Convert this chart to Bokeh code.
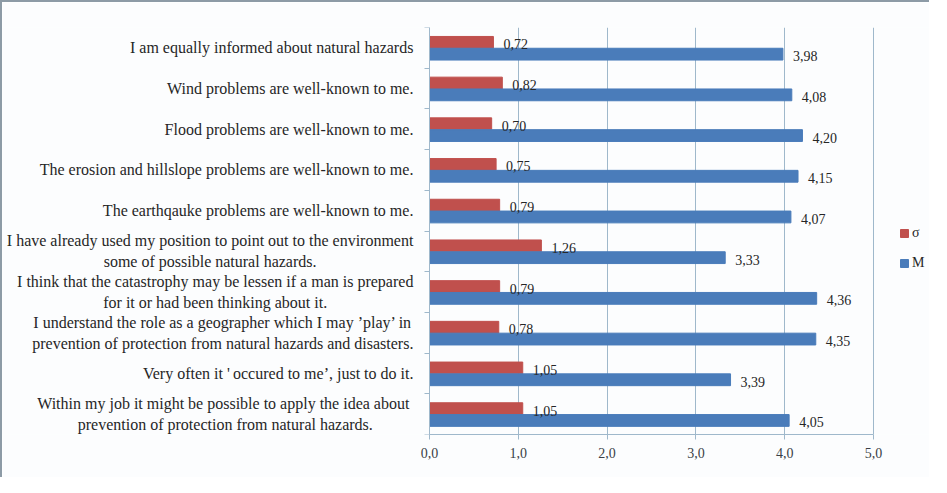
import glob
import numpy as np
from bokeh.plotting import figure
from bokeh.models import (ColumnDataSource, Range1d, FixedTicker, Legend, LegendItem,
                          LabelSet, Label, CustomJSTickFormatter)
from bokeh.transform import dodge
from bokeh.embed import file_html
from bokeh.resources import INLINE

statements = [
    "I am equally informed about natural hazards",
    "Wind problems are well-known to me.",
    "Flood problems are well-known to me.",
    "The erosion and hillslope problems are well-known to me.",
    "The earthqauke problems are well-known to me.",
    "I have already used my position to point out to the environment\nsome of possible natural hazards.",
    "I think that the catastrophy may be lessen if a man is prepared\nfor it or had been thinking about it.",
    "I understand the role as a geographer which I may \u2019play\u2019 in\nprevention of protection from natural hazards and disasters.",
    "Very often it '\u2009occured to me\u2019, just to do it.",
    "Within my job it might be possible to apply the idea  about\nprevention of protection from natural hazards.",
]
sigma = [0.72, 0.82, 0.70, 0.75, 0.79, 1.26, 0.79, 0.78, 1.05, 1.05]
mean = [3.98, 4.08, 4.20, 4.15, 4.07, 3.33, 4.36, 4.35, 3.39, 4.05]
x_ticks = [0, 1, 2, 3, 4, 5]
series_names = ["\u03c3", "M"]

RED = "#c0504d"
BLUE = "#4a7cba"
GRID = "#9fb8cb"
TXT = "#262626"
FONT = "Liberation Serif"
CAT_FS = 16

# text width measurement (for centring the multi-line category labels)
_measure = None
try:
    from PIL import ImageFont
    _paths = glob.glob("/usr/share/fonts/**/LiberationSerif-Regular.ttf", recursive=True)
    if _paths:
        _pf = ImageFont.truetype(_paths[0], CAT_FS)
        _measure = lambda s: _pf.getlength(s)
except Exception:
    _measure = None
if _measure is None:
    _measure = lambda s: len(s) * 0.42 * CAT_FS

n = len(statements)
ypos = np.arange(n) + 0.5
src = ColumnDataSource(dict(
    y=ypos,
    sigma=sigma,
    mean=mean,
    sigma_lbl=[f"{v:.2f}".replace(".", ",") for v in sigma],
    mean_lbl=[f"{v:.2f}".replace(".", ",") for v in mean],
))

# layout (canvas pixels)
W, HGT = 929, 477
BORDER_L, BORDER_R, BORDER_T, BORDER_B = 0, 2, 25, 45
ZERO_PX = 427          # canvas x of value 0
SPAN_PX = 444          # pixels from value 0 to value 5
frame_w = W - BORDER_L - BORDER_R
frame_bottom = HGT - BORDER_B
ppu = SPAN_PX / (x_ticks[-1] - x_ticks[0])
x0 = x_ticks[0] - (ZERO_PX - BORDER_L) / ppu
x1 = x0 + frame_w / ppu

p = figure(width=W, height=HGT, x_range=Range1d(x0, x1), y_range=Range1d(n, 0),
           output_backend="svg", toolbar_location=None,
           min_border_left=BORDER_L, min_border_right=BORDER_R,
           min_border_top=BORDER_T, min_border_bottom=BORDER_B)
p.styles = {"border-top": "2px solid #8d9ba6", "border-left": "2px solid #8d9ba6"}
p.background_fill_color = "#fcfdfe"
p.border_fill_color = "#fcfdfe"
p.outline_line_color = None

OFF_S, OFF_M, H = -0.135, 0.155, 0.29
r_s = p.hbar(y=dodge("y", OFF_S, range=p.y_range), left=0, right="sigma", height=H,
             fill_color=RED, line_color=RED, source=src)
r_m = p.hbar(y=dodge("y", OFF_M, range=p.y_range), left=0, right="mean", height=H,
             fill_color=BLUE, line_color=BLUE, source=src)

for fld, off in (("sigma", OFF_S), ("mean", OFF_M)):
    p.add_layout(LabelSet(x=fld, y=dodge("y", off, range=p.y_range), text=fld + "_lbl",
                          source=src, x_offset=10, y_offset=-2, text_baseline="middle",
                          text_font=FONT, text_font_size="14px", text_color=TXT))

# x axis
p.xaxis.ticker = FixedTicker(ticks=x_ticks)
p.xaxis.bounds = (x_ticks[0], x_ticks[-1])
p.xaxis.formatter = CustomJSTickFormatter(code="return tick.toFixed(1).replace('.', ',');")
p.xaxis.axis_line_color = GRID
p.xaxis.major_tick_line_color = GRID
p.xaxis.major_tick_out = 5
p.xaxis.major_tick_in = 0
p.xaxis.minor_tick_line_color = None
p.xaxis.major_label_standoff = 8
p.xaxis.major_label_text_font = FONT
p.xaxis.major_label_text_font_size = "14px"
p.xaxis.major_label_text_color = "#3a3f46"

# y axis at value 0: boundary ticks only, category texts drawn as centred labels
p.yaxis.fixed_location = 0
p.yaxis.ticker = FixedTicker(ticks=[], minor_ticks=list(range(n + 1)))
p.yaxis.axis_line_color = GRID
p.yaxis.major_tick_line_color = None
p.yaxis.major_tick_out = 0
p.yaxis.major_tick_in = 0
p.yaxis.major_label_standoff = 0
p.yaxis.minor_tick_line_color = GRID
p.yaxis.minor_tick_out = 5
p.yaxis.minor_tick_in = 0
p.yaxis.major_label_text_font_size = "0px"

STANDOFF = 16
for y, s in zip(ypos, statements):
    w = max(_measure(line) for line in s.split("\n"))
    p.add_layout(Label(x=0, y=y, x_offset=-STANDOFF - w / 2,
                       text=s, text_align="center", text_baseline="middle",
                       text_font=FONT, text_font_size=f"{CAT_FS}px", text_color=TXT,
                       text_line_height=1.25))

p.ygrid.visible = False
p.xgrid.ticker = FixedTicker(ticks=x_ticks)
p.xgrid.grid_line_color = GRID
p.xgrid.grid_line_width = 1

LEG_TOP = 223
LEG_H = 16 + 14 + 16
legend = Legend(items=[LegendItem(label=series_names[0], renderers=[r_s]),
                       LegendItem(label=series_names[1], renderers=[r_m])],
                location=(ZERO_PX + SPAN_PX + 26 - BORDER_L, frame_bottom - LEG_H - LEG_TOP),
                glyph_width=10, glyph_height=10, label_standoff=3,
                spacing=14, padding=0, margin=0, border_line_color=None,
                background_fill_alpha=0, label_text_font=FONT, label_text_font_size="14px",
                label_text_color=TXT)
p.add_layout(legend, "center")

open("out.html", "w").write(file_html(p, INLINE))
